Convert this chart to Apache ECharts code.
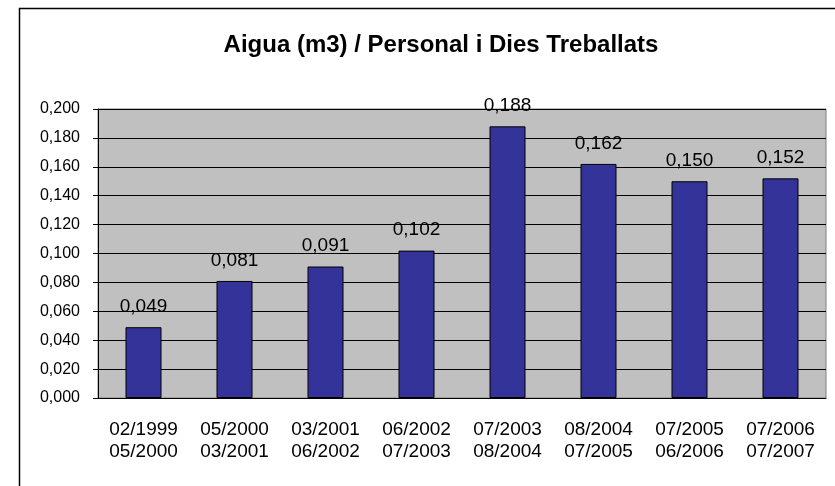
<!DOCTYPE html>
<html>
<head>
<meta charset="utf-8">
<script src="https://cdn.jsdelivr.net/npm/echarts@6/dist/echarts.min.js"></script>
<style>
  html, body { margin: 0; padding: 0; background: #fff; }
  #chart { width: 835px; height: 486px; }
</style>
</head>
<body>
<div id="chart"></div>
<script>
const periods = [
  '02/1999\n05/2000', '05/2000\n03/2001', '03/2001\n06/2002', '06/2002\n07/2003',
  '07/2003\n08/2004', '08/2004\n07/2005', '07/2005\n06/2006', '07/2006\n07/2007'
];
const waterValues = [0.049, 0.081, 0.091, 0.102, 0.188, 0.162, 0.150, 0.152];

const fmt = v => v.toFixed(3).replace('.', ',');
const font = 'Liberation Sans, Arial, sans-serif';

const chart = echarts.init(document.getElementById('chart'));
chart.setOption({
  animation: false,
  backgroundColor: '#fff',
  title: {
    text: 'Aigua (m3) / Personal i Dies Treballats',
    left: 436,
    textAlign: 'center',
    top: 28,
    textStyle: { fontFamily: font, fontSize: 24, fontWeight: 'bold', color: '#000' }
  },
  graphic: [{
    type: 'rect',
    shape: { x: 19.5, y: 8.5, width: 900, height: 600 },
    style: { fill: 'none', stroke: '#000', lineWidth: 1.5 },
    silent: true
  }],
  grid: {
    left: 98, right: 9, top: 109, bottom: 88,
    show: true,
    backgroundColor: '#c0c0c0',
    borderColor: '#808080',
    borderWidth: 1
  },
  xAxis: {
    type: 'category',
    data: periods,
    axisLine: { lineStyle: { color: '#000', width: 1 } },
    axisTick: { length: 6, lineStyle: { color: '#000' } },
    axisLabel: {
      margin: 21, color: '#000', fontFamily: font, fontSize: 19, lineHeight: 22,
      interval: 0
    }
  },
  yAxis: {
    type: 'value',
    min: 0, max: 0.2, interval: 0.02,
    axisLine: { show: true, lineStyle: { color: '#000', width: 1 } },
    axisTick: { show: true, length: 5, lineStyle: { color: '#000' } },
    splitLine: { lineStyle: { color: '#000', width: 1 } },
    axisLabel: {
      margin: 18, color: '#000', fontFamily: font, fontSize: 16,
      formatter: fmt
    }
  },
  series: [{
    type: 'bar',
    data: waterValues,
    barWidth: 36,
    itemStyle: { color: '#333399', borderColor: '#000', borderWidth: 1 },
    label: {
      show: true, position: 'top', distance: 11,
      color: '#000', fontFamily: font, fontSize: 19,
      formatter: p => fmt(p.value)
    }
  }]
});
</script>
</body>
</html>
